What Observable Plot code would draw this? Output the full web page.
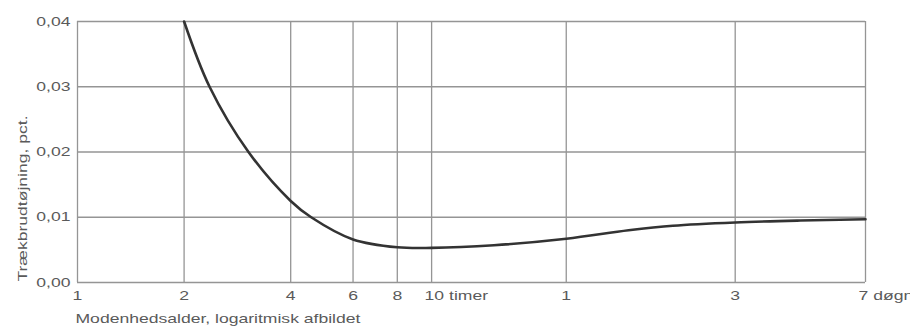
<!DOCTYPE html>
<html><head><meta charset="utf-8">
<script src="https://cdn.jsdelivr.net/npm/d3@7"></script>
<script src="https://cdn.jsdelivr.net/npm/@observablehq/plot@0.6"></script>
<style>
body{margin:0;background:#fff;overflow:hidden}
#chart svg{font-family:"Liberation Sans",Arial,sans-serif;display:block}
</style>
</head><body><div id="chart"></div>
<script>
// Maturity age in hours (log scale) and tensile strain at failure (pct.)
const hours  = [2, 2.36, 3.04, 4, 4.57, 6, 8, 10, 15, 24, 36, 48, 72, 110, 168];
const strain = [0.040, 0.030, 0.020, 0.0125, 0.010, 0.0066, 0.0054, 0.0053, 0.0057, 0.0067, 0.0080, 0.0087, 0.0092, 0.0095, 0.0097];

const xTicks = [1, 2, 4, 6, 8, 10, 24, 72, 168];
const xTickLabels = ["1", "2", "4", "6", "8", "10 timer", "1", "3", "7 døgn"];
const yTicks = [0, 0.01, 0.02, 0.03, 0.04];
const yTickLabels = ["0,00", "0,01", "0,02", "0,03", "0,04"];
const xTitle = "Modenhedsalder, logaritmisk afbildet";
const yTitle = "Trækbrudtøjning, pct.";

const curve = hours.map((h, i) => ({h, s: strain[i]}));
const xt = xTicks.map((v, i) => ({v, label: xTickLabels[i], start: xTickLabels[i].length > 2}));
const yt = yTicks.map((v, i) => ({v, label: yTickLabels[i]}));

const textColor = "#5a5a5a";
const gridColor = "#959595";

const chart = Plot.plot({
  width: 910,
  height: 329,
  marginLeft: 77,
  marginRight: 45,
  marginTop: 21,
  marginBottom: 47,
  style: {background: "#fff", fontSize: "13px", overflow: "visible"},
  x: {type: "log", domain: [1, 168], axis: null},
  y: {domain: [0, 0.04], axis: null},
  marks: [
    Plot.ruleY(yt, {y: "v", stroke: gridColor, strokeWidth: 1.3}),
    Plot.ruleX(xt, {x: "v", stroke: gridColor, strokeWidth: 1.3}),
    Plot.line(curve, {x: "h", y: "s", curve: "catmull-rom", stroke: "#333", strokeWidth: 2.6}),
    Plot.text(yt, {y: "v", text: "label", frameAnchor: "left", dx: -7, textAnchor: "end", fill: textColor}),
    Plot.text(xt.filter(d => !d.start), {x: "v", text: "label", frameAnchor: "bottom", dy: 17, textAnchor: "middle", fill: textColor}),
    Plot.text(xt.filter(d => d.start), {x: "v", text: "label", frameAnchor: "bottom", dy: 17, dx: -7, textAnchor: "start", fill: textColor}),
    Plot.text([xTitle], {text: d => d, frameAnchor: "bottom-left", dy: 40, dx: -2, textAnchor: "start", fill: textColor}),
    Plot.text([yTitle], {text: d => d, frameAnchor: "left", dx: -55, dy: 46.5, rotate: -90, textAnchor: "middle", fill: textColor})
  ]
});
document.getElementById("chart").appendChild(chart);
// the reference lettering is horizontally wide: stretch glyphs
d3.select(chart).selectAll("text").each(function() {
  const len = this.getComputedTextLength();
  if (len > 0) {
    this.setAttribute("textLength", (len * 1.35).toFixed(1));
    this.setAttribute("lengthAdjust", "spacingAndGlyphs");
  }
});
</script>
</body></html>
